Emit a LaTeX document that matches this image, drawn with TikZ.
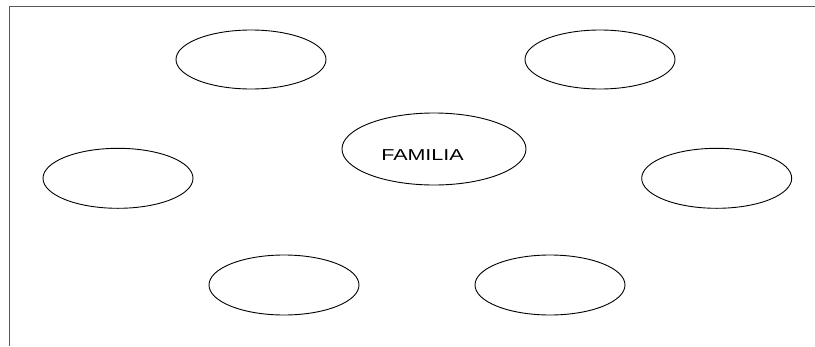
\documentclass[tikz,border=0pt]{standalone}
\usepackage{fontspec}
\setmainfont{Liberation Sans}
\usetikzlibrary{shapes.geometric}
\begin{document}
\begin{tikzpicture}[x=1pt,y=1pt,
  oval/.style={draw=black,line width=0.9pt,ellipse,inner sep=0pt,minimum width=150pt,minimum height=59pt},
  frameline/.style={draw=black!65,line width=1pt}]
\useasboundingbox (0,0) rectangle (815,-346);
\fill[white] (0,0) rectangle (815,-346);
\coordinate (tl) at (9.5,-6.5);
\coordinate (tr) at (815,-6.5);
\coordinate (bl) at (9.5,-346);
\draw[frameline] (tr) -- (tl) -- (bl);
\node[oval] (e1) at (251,-59.5) {};
\node[oval] (e2) at (600,-59.5) {};
\node[oval,minimum height=60pt] (e3) at (118,-178.3) {};
\node[oval,minimum height=60pt] (e4) at (716.7,-178.3) {};
\node[oval,minimum height=60pt] (e5) at (284,-285) {};
\node[oval,minimum height=60pt] (e6) at (550,-285) {};
\node[oval,minimum width=184pt,minimum height=72pt] (fam) at (434,-149) {};
\node[inner sep=0pt,anchor=base,font=\fontsize{15.8pt}{18pt}\selectfont] (famtext) at (422.5,-160) {\scalebox{1.36}[1]{FAMILIA}};
\end{tikzpicture}
\end{document}
